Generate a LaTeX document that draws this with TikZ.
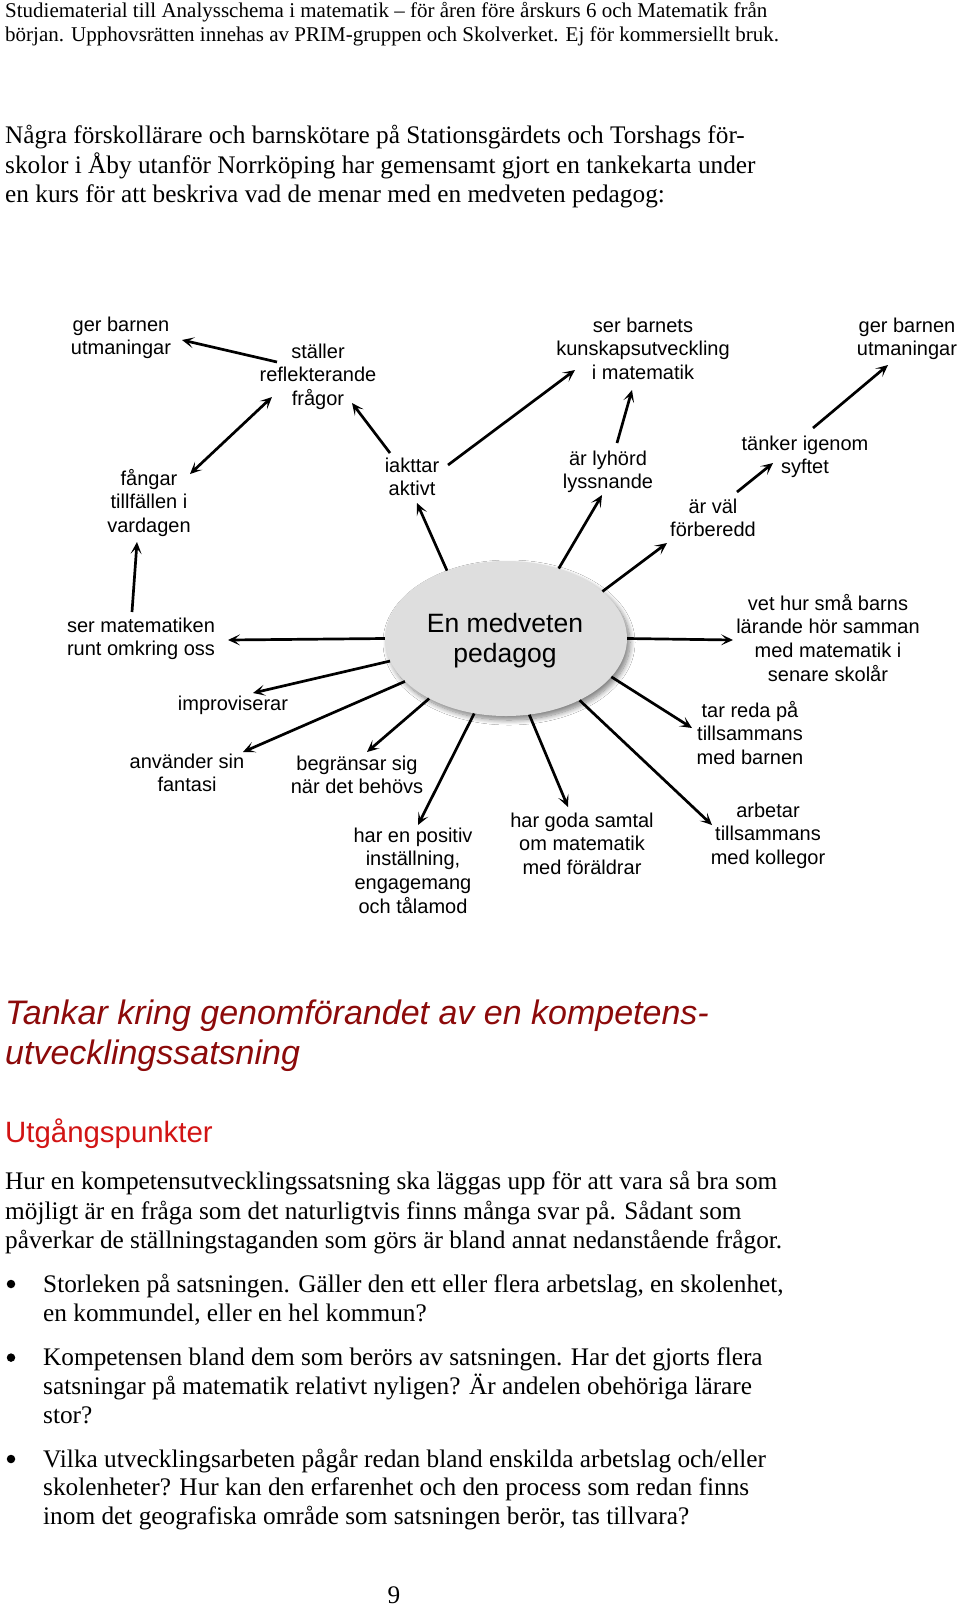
\documentclass[tikz,border=0pt]{standalone}
\usepackage{fontspec}
\setmainfont{Liberation Serif}
\newfontfamily\lsans{Liberation Sans}
\usetikzlibrary{arrows.meta,shapes.geometric,shadows.blur}
\definecolor{hdred}{RGB}{140,10,10}
\definecolor{subred}{RGB}{210,20,20}
\definecolor{ellgray}{RGB}{222,222,222}
\tikzset{
  bodyline/.style={anchor=base west, inner sep=0pt, font=\fontsize{25.3}{29.7}\selectfont},
  hdrline/.style={anchor=base west, inner sep=0pt, font=\fontsize{21}{23.6}\selectfont},
  lab/.style={anchor=base, inner sep=0pt, align=center, font=\lsans\fontsize{20}{23.7}\selectfont},
  arr/.style={line width=2.7pt, -{Stealth[length=12pt,width=11pt,inset=6pt]}},
  dblarr/.style={line width=2.7pt, {Stealth[length=12pt,width=11pt,inset=6pt]}-{Stealth[length=12pt,width=11pt,inset=6pt]}},
  bul/.style={circle, fill=black, inner sep=0pt, minimum size=8.5pt},
}
\begin{document}
\begin{tikzpicture}[x=1pt,y=-1pt]
\useasboundingbox[fill=white] (0,0) rectangle (960,1607);

% header
\node[hdrline] (hdr1) at (5,17.5) {Studiematerial till Analysschema i matematik – för åren före årskurs 6 och Matematik från};
\node[hdrline] (hdr2) at (5,41) {början. Upphovsrätten innehas av PRIM-gruppen och Skolverket. Ej för kommersiellt bruk.};

% intro paragraph
\node[bodyline] (p1) at (5,143.4) {Några förskollärare och barnskötare på Stationsgärdets och Torshags för-};
\node[bodyline] (p2) at (5,173.1) {skolor i Åby utanför Norrköping har gemensamt gjort en tankekarta under};
\node[bodyline] (p3) at (5,202.9) {en kurs för att beskriva vad de menar med en medveten pedagog:};

% mind map (label positions give the baseline of the LAST line)
\node[ellipse, fill=ellgray, minimum width=242pt, minimum height=155pt, inner sep=0pt,
  blur shadow={shadow xshift=3pt, shadow yshift=-4pt, shadow blur radius=5pt, shadow blur steps=10, shadow opacity=50}]
  (ell) at (506,638.5) {};
\node[anchor=base, inner sep=0pt, align=center, font=\lsans\fontsize{26.5}{30}\selectfont] (elltxt) at (505,662) {En medveten\\pedagog};

\node[lab] (gbL) at (121,354.7) {ger barnen\\utmaningar};
\node[lab] (stal) at (318,405.4) {ställer\\reflekterande\\frågor};
\node[lab] (fang) at (149,532.4) {fångar\\tillfällen i\\vardagen};
\node[lab] (iakt) at (412,495.7) {iakttar\\aktivt};
\node[lab] (serb) at (643,379.4) {ser barnets\\kunskapsutveckling\\i matematik};
\node[lab] (gbR) at (907,355.7) {ger barnen\\utmaningar};
\node[lab] (lyh) at (608,488.7) {är lyhörd\\lyssnande};
\node[lab] (tank) at (805,473.7) {tänker igenom\\syftet};
\node[lab] (farb) at (713,536.7) {är väl\\förberedd};
\node[lab] (serm) at (141,655.7) {ser matematiken\\runt omkring oss};
\node[lab] (veth) at (828,681.1) {vet hur små barns\\lärande hör samman\\med matematik i\\senare skolår};
\node[lab] (impr) at (233,710) {improviserar};
\node[lab] (anv) at (187,791.7) {använder sin\\fantasi};
\node[lab] (beg) at (357,793.7) {begränsar sig\\när det behövs};
\node[lab] (pos) at (413,913.1) {har en positiv\\inställning,\\engagemang\\och tålamod};
\node[lab] (goda) at (582,874.4) {har goda samtal\\om matematik\\med föräldrar};
\node[lab] (tar) at (750,764.4) {tar reda på\\tillsammans\\med barnen};
\node[lab] (arb) at (768,864.4) {arbetar\\tillsammans\\med kollegor};

% connector end points
\coordinate (a1) at (277,362); \coordinate (a2) at (182,340);
\coordinate (b1) at (190,474); \coordinate (b2) at (272,397);
\coordinate (c1) at (390,453); \coordinate (c2) at (352,403);
\coordinate (d2) at (417,503);
\coordinate (e1) at (448,465); \coordinate (e2) at (575,370);
\coordinate (f2) at (602,495);
\coordinate (g1) at (617,443); \coordinate (g2) at (632,390);
\coordinate (h2) at (667,543);
\coordinate (i1) at (737,492); \coordinate (i2) at (773,463);
\coordinate (j1) at (813,428); \coordinate (j2) at (888,365);
\coordinate (k1) at (132,612); \coordinate (k2) at (137,542);
\coordinate (l2) at (228,640);
\coordinate (m2) at (733,640);
\coordinate (n2) at (253,693);
\coordinate (o2) at (243,752);
\coordinate (pp2) at (367,752);
\coordinate (q2) at (418,825);
\coordinate (r2) at (568,807);
\coordinate (s2) at (692,728);
\coordinate (t2) at (712,825);

\draw[arr] (a1) -- (a2);
\draw[dblarr] (b1) -- (b2);
\draw[arr] (c1) -- (c2);
\draw[arr] (ell.131.7) -- (d2);
\draw[arr] (e1) -- (e2);
\draw[arr] (ell.53.6) -- (f2);
\draw[arr] (g1) -- (g2);
\draw[arr] (ell.26.8) -- (h2);
\draw[arr] (i1) -- (i2);
\draw[arr] (j1) -- (j2);
\draw[arr] (k1) -- (k2);
\draw[arr] (ell.180) -- (l2);
\draw[arr] (ell.0) -- (m2);
\draw[arr] (ell.191) -- (n2);
\draw[arr] (ell.203) -- (o2);
\draw[arr] (ell.218) -- (pp2);
\draw[arr] (ell.247) -- (q2);
\draw[arr] (ell.287) -- (r2);
\draw[arr] (ell.340) -- (s2);
\draw[arr] (ell.320) -- (t2);

% headings
\node[anchor=base west, inner sep=0pt, text=hdred, font=\lsans\itshape\fontsize{34}{40}\selectfont] (h1) at (5,1024) {Tankar kring genomförandet av en kompetens-};
\node[anchor=base west, inner sep=0pt, text=hdred, font=\lsans\itshape\fontsize{34}{40}\selectfont] (h2) at (5,1064) {utvecklingssatsning};
\node[anchor=base west, inner sep=0pt, text=subred, font=\lsans\fontsize{29.4}{36}\selectfont] (sub) at (5,1142) {Utgångspunkter};

% body
\node[bodyline] (q1) at (5,1189.5) {Hur en kompetensutvecklingssatsning ska läggas upp för att vara så bra som};
\node[bodyline] (q2l) at (5,1219.2) {möjligt är en fråga som det naturligtvis finns många svar på. Sådant som};
\node[bodyline] (q3) at (5,1248.9) {påverkar de ställningstaganden som görs är bland annat nedanstående frågor.};

\node[bul] (bu1) at (11,1284) {};
\node[bodyline] (l11) at (43,1292) {Storleken på satsningen. Gäller den ett eller flera arbetslag, en skolenhet,};
\node[bodyline] (l12) at (43,1321.6) {en kommundel, eller en hel kommun?};
\node[bul] (bu2) at (11,1357.6) {};
\node[bodyline] (l21) at (43,1365.6) {Kompetensen bland dem som berörs av satsningen. Har det gjorts flera};
\node[bodyline] (l22) at (43,1394.4) {satsningar på matematik relativt nyligen? Är andelen obehöriga lärare};
\node[bodyline] (l23) at (43,1423) {stor?};
\node[bul] (bu3) at (11,1459) {};
\node[bodyline] (l31) at (43,1467) {Vilka utvecklingsarbeten pågår redan bland enskilda arbetslag och/eller};
\node[bodyline] (l32) at (43,1495.8) {skolenheter? Hur kan den erfarenhet och den process som redan finns};
\node[bodyline] (l33) at (43,1524.5) {inom det geografiska område som satsningen berör, tas tillvara?};

\node[anchor=base, inner sep=0pt, font=\fontsize{25.3}{29.7}\selectfont] (pg) at (394,1603) {9};
\end{tikzpicture}
\end{document}
